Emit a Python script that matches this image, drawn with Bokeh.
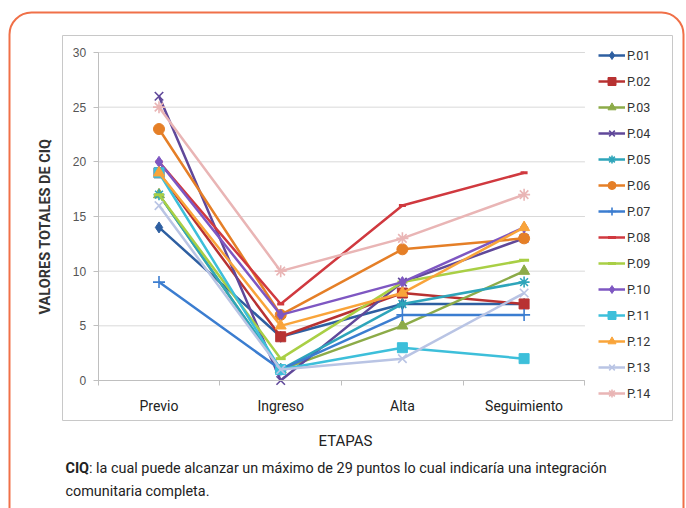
import math
from bokeh.plotting import figure
from bokeh.models import Legend, LegendItem, BoxAnnotation, Label, FixedTicker, Range1d
from bokeh.embed import file_html
from bokeh.resources import INLINE

categories = ["Previo", "Ingreso", "Alta", "Seguimiento"]
series_names = ["P.01", "P.02", "P.03", "P.04", "P.05", "P.06", "P.07",
                "P.08", "P.09", "P.10", "P.11", "P.12", "P.13", "P.14"]
P01 = [14, 4, 7, 7]
P02 = [19, 4, 8, 7]
P03 = [17, 1, 5, 10]
P04 = [26, 0, 9, 13]
P05 = [17, 1, 7, 9]
P06 = [23, 6, 12, 13]
P07 = [9, 1, 6, 6]
P08 = [20, 7, 16, 19]
P09 = [17, 2, 9, 11]
P10 = [20, 6, 9, 14]
P11 = [19, 1, 3, 2]
P12 = [19, 5, 8, 14]
P13 = [16, 1, 2, 8]
P14 = [25, 10, 13, 17]
series_values = [P01, P02, P03, P04, P05, P06, P07, P08, P09, P10, P11, P12, P13, P14]
y_ticks = [0, 5, 10, 15, 20, 25, 30]
y_label = "VALORES TOTALES DE CIQ"
x_label = "ETAPAS"
caption_bold = "CIQ"
caption_1 = ": la cual puede alcanzar un máximo de 29 puntos lo cual indicaría una integración"
caption_2 = "comunitaria completa."

colors = ["#2E5FA1", "#B83232", "#8CAB48", "#60489A", "#2EA5BA", "#E57F27", "#3B7DD0",
          "#D0393F", "#A9CF45", "#7E57C2", "#3DBFDA", "#F9A43A", "#B9C4E4", "#E9B5B5"]
markers = ["diamond", "square", "triangle", "x", "asterisk", "circle", "cross",
           "dash", "dash", "diamond", "square", "triangle", "x", "asterisk"]
sizes = [11, 10, 11, 12, 11, 11, 12, 7, 10, 11, 10, 11, 12, 12]

# ---- layout (pixels) ----
W, H = 686, 508
X0_PX, X_STEP = 158.5, 121.7        # pixel of first category, pixels per category
Y0_PX, Y_UNIT = 380.0, 328.0 / 30.0  # pixel of value 0, pixels per unit

x_range = Range1d(-X0_PX / X_STEP, (W - X0_PX) / X_STEP)
y_range = Range1d(-(H - Y0_PX) / Y_UNIT, Y0_PX / Y_UNIT)

p = figure(x_range=x_range, y_range=y_range, width=W, height=H,
           output_backend="svg", toolbar_location=None,
           min_border_left=0, min_border_right=0, min_border_top=0, min_border_bottom=0)
p.outline_line_color = None
p.background_fill_color = "white"
p.border_fill_color = "white"
p.xgrid.grid_line_color = None
p.ygrid.grid_line_color = None

# decorative frames
p.add_layout(BoxAnnotation(left=9, right=683, top=12, bottom=530,
                           left_units="canvas", right_units="canvas",
                           top_units="canvas", bottom_units="canvas",
                           fill_color=None, line_color="#F07048", line_alpha=1.0,
                           line_width=2, border_radius=22, level="underlay"))
p.add_layout(BoxAnnotation(left=62, right=672, top=35, bottom=420,
                           left_units="canvas", right_units="canvas",
                           top_units="canvas", bottom_units="canvas",
                           fill_color=None, line_color="#C8C8C8", line_alpha=1.0,
                           line_width=1, level="underlay"))

n = len(categories)
xs = list(range(n))
# horizontal gridlines spanning the category band
p.segment(x0=[-0.5] * len(y_ticks), x1=[n - 0.5] * len(y_ticks), y0=y_ticks, y1=y_ticks,
          line_color="#D9D9D9", line_width=1)

items = []
for name, vals, c, m, s in zip(series_names, series_values, colors, markers, sizes):
    r1 = p.line(xs, vals, line_color=c, line_width=2.5)
    r2 = p.scatter(xs, vals, marker=m, size=s, fill_color=c, line_color=c,
                   line_width=3 if m == "dash" else (1.6 if m in ("x", "asterisk", "cross") else 1))
    items.append(LegendItem(label=name, renderers=[r1, r2]))

legend = Legend(items=items, location=(598, H - 403), padding=0, margin=0,
                glyph_width=27, glyph_height=20, label_height=20, spacing=6,
                label_standoff=2, label_text_font="Roboto", label_text_font_size="12.5px",
                label_text_color="#333333", border_line_color=None,
                background_fill_alpha=0)
p.add_layout(legend, "center")

# y axis (fixed at the category band's left edge)
p.yaxis.fixed_location = -0.5
p.yaxis.bounds = (y_ticks[0], y_ticks[-1])
p.yaxis.ticker = FixedTicker(ticks=y_ticks)
p.yaxis.axis_line_color = "#BFBFBF"
p.yaxis.major_tick_line_color = "#BFBFBF"
p.yaxis.major_tick_out = 5
p.yaxis.major_tick_in = 0
p.yaxis.minor_tick_line_color = None
p.yaxis.major_label_text_font = "Liberation Sans"
p.yaxis.major_label_text_font_size = "12px"
p.yaxis.major_label_text_color = "#555555"
p.yaxis.major_label_standoff = 7

# x axis (fixed at value 0)
p.xaxis.fixed_location = 0
p.xaxis.bounds = (-0.5, n - 0.5)
p.xaxis.ticker = FixedTicker(ticks=xs, minor_ticks=[i - 0.5 for i in range(n + 1)])
p.xaxis.major_label_overrides = {i: c for i, c in enumerate(categories)}
p.xaxis.axis_line_color = "#BFBFBF"
p.xaxis.major_tick_line_color = None
p.xaxis.major_tick_out = 6
p.xaxis.minor_tick_line_color = "#BFBFBF"
p.xaxis.minor_tick_out = 5
p.xaxis.minor_tick_in = 0
p.xaxis.major_label_text_font = "Roboto"
p.xaxis.major_label_text_font_size = "14px"
p.xaxis.major_label_text_color = "#222222"
p.xaxis.major_label_standoff = 11

# axis titles and caption
p.add_layout(Label(x=45, y=H - 226, x_units="screen", y_units="screen",
                   text=y_label, angle=math.pi / 2, text_font="Roboto",
                   text_font_style="bold", text_font_size="14.5px", text_color="#333333",
                   text_align="center", text_baseline="middle"))
p.add_layout(Label(x=345, y=H - 440, x_units="screen", y_units="screen",
                   text=x_label, text_font="Roboto", text_font_size="15px",
                   text_color="#222222", text_align="center", text_baseline="middle"))
p.add_layout(Label(x=65, y=H - 468, x_units="screen", y_units="screen",
                   text=caption_bold, text_font="Roboto", text_font_style="bold",
                   text_font_size="14.4px", text_color="#222222", text_baseline="middle"))
p.add_layout(Label(x=88.5, y=H - 468, x_units="screen", y_units="screen",
                   text=caption_1, text_font="Roboto", text_font_size="14.4px",
                   text_color="#222222", text_baseline="middle"))
p.add_layout(Label(x=65, y=H - 491, x_units="screen", y_units="screen",
                   text=caption_2, text_font="Roboto", text_font_size="14.4px",
                   text_color="#222222", text_baseline="middle"))

open("out.html", "w").write(file_html(p, INLINE))
